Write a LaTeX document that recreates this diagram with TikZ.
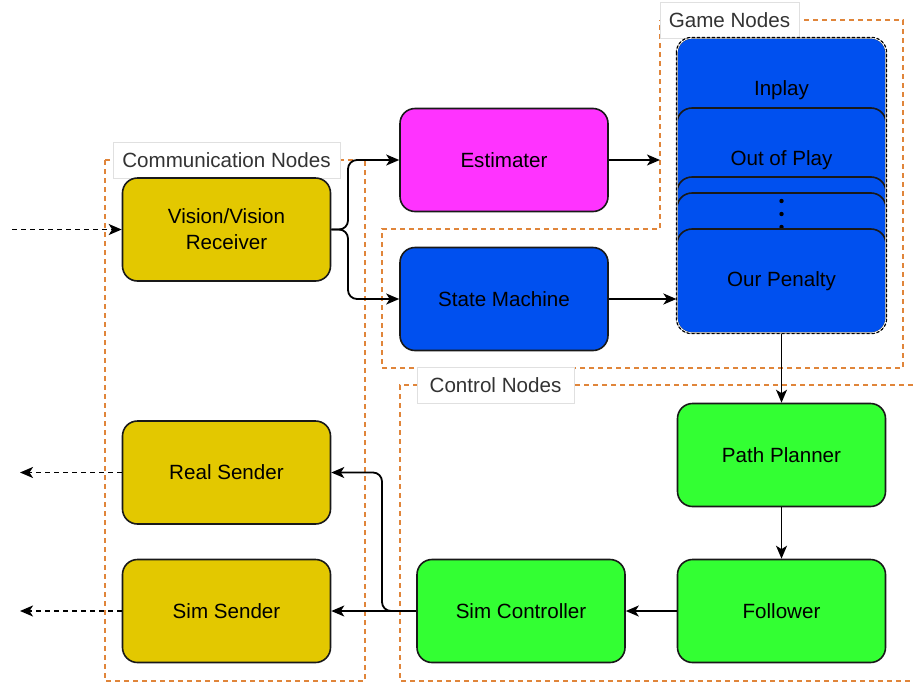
\documentclass[tikz,border=0pt]{standalone}
\usepackage{fontspec}
\setmainfont{Liberation Sans}
\usetikzlibrary{arrows.meta}

\definecolor{commyellow}{HTML}{E3C800}
\definecolor{estmagenta}{HTML}{FF33FF}
\definecolor{gameblue}{HTML}{0050EF}
\definecolor{ctrlgreen}{HTML}{33FF33}
\definecolor{grouporange}{RGB}{224,133,58}

\tikzset{
    nodebox/.style={draw=black!90, line width=1.6, rounded corners=15,
        minimum width=208, minimum height=103, align=center, inner sep=2,
        font=\fontsize{20.6}{26}\selectfont},
    gamecard/.style={nodebox, fill=gameblue, minimum width=209, minimum height=104},
    groupframe/.style={draw=grouporange, line width=1.5, dash pattern=on 5 off 4},
    grouplabel/.style={draw=black!12, fill=white, line width=0.8, text=black!80,
        minimum height=36, inner sep=2, font=\fontsize{20.6}{26}\selectfont},
    flow/.style={-{Stealth[length=13, width=11, inset=3.5]}, line width=1.8},
}

\begin{document}
\begin{tikzpicture}[x=1pt, y=-1pt]
    \useasboundingbox (0,0) rectangle (913,683);

    % groups
    \draw[groupframe] (105,160) rectangle (365,681);
    \draw[groupframe] (660,20) -- (903,20) -- (903,368) -- (382,368) -- (382,229) -- (660,229) -- cycle;
    \draw[groupframe] (913,385) -- (400,385) -- (400,681) -- (913,681);

    \node[grouplabel, minimum width=227] (commlabel) at (226.5,160) {Communication Nodes};
    \node[grouplabel, minimum width=139] (gamelabel) at (729.5,20) {Game Nodes};
    \node[grouplabel, minimum width=157] (ctrllabel) at (495.5,385.5) {Control Nodes};

    % communication nodes
    \node[nodebox, fill=commyellow] (vision) at (226.5,229.5) {Vision/Vision\\Receiver};
    \node[nodebox, fill=commyellow] (realsend) at (226.5,472.5) {Real Sender};
    \node[nodebox, fill=commyellow] (simsend) at (226.5,611) {Sim Sender};

    \node[nodebox, fill=estmagenta] (est) at (504,160) {Estimater};
    \node[nodebox, fill=gameblue] (state) at (504,299) {State Machine};

    % game nodes stacked
    \node[gamecard] (inplay) at (781.5,90) {Inplay};
    \node[gamecard] (outplay) at (781.5,160) {Out of Play};
    \node[gamecard] (blanka) at (781.5,229) {};
    \node[gamecard] (blankb) at (781.5,245) {};
    \foreach \y in {201,214,227}
        \fill (781.5,\y) circle (2.2);
    \node[gamecard] (penalty) at (781.5,281) {Our Penalty};
    \node[draw=white, line width=1.2, rounded corners=15, minimum width=209, minimum height=295] (stack) at (781.5,185.5) {};
    \draw[black, line width=1.2, dash pattern=on 3 off 2, rounded corners=15] (stack.north west) rectangle (stack.south east);

    % control nodes
    \node[nodebox, fill=ctrlgreen] (path) at (781.5,455) {Path Planner};
    \node[nodebox, fill=ctrlgreen] (follow) at (781.5,611) {Follower};
    \node[nodebox, fill=ctrlgreen] (simctrl) at (521,611) {Sim Controller};

    % connectors
    \coordinate (visin) at (12,229.5);
    \coordinate (split) at (348,229.5);
    \coordinate (gamein) at (660,160);
    \coordinate (turn) at (382,611);
    \coordinate (realout) at (20,472.5);
    \coordinate (simout) at (20,611);

    \draw[flow, dash pattern=on 5 off 4] (visin) -- (vision.west);
    \draw[flow, rounded corners=9] (vision.east) -- (split) |- (est.west);
    \draw[flow, rounded corners=9] (vision.east) -- (split) |- (state.west);
    \draw[flow] (est.east) -- (gamein);
    \draw[flow] (state.east) -- (state.east -| stack.west);
    \draw[flow] (stack.south) -- (path.north);
    \draw[flow] (path.south) -- (follow.north);
    \draw[flow] (follow.west) -- (simctrl.east);
    \draw[flow] (simctrl.west) -- (simsend.east);
    \draw[flow, rounded corners=9] (simctrl.west) -- (turn) |- (realsend.east);
    \draw[flow, dash pattern=on 5 off 4] (realsend.west) -- (realout);
    \draw[flow, dash pattern=on 5 off 4] (simsend.west) -- (simout);

\end{tikzpicture}
\end{document}
